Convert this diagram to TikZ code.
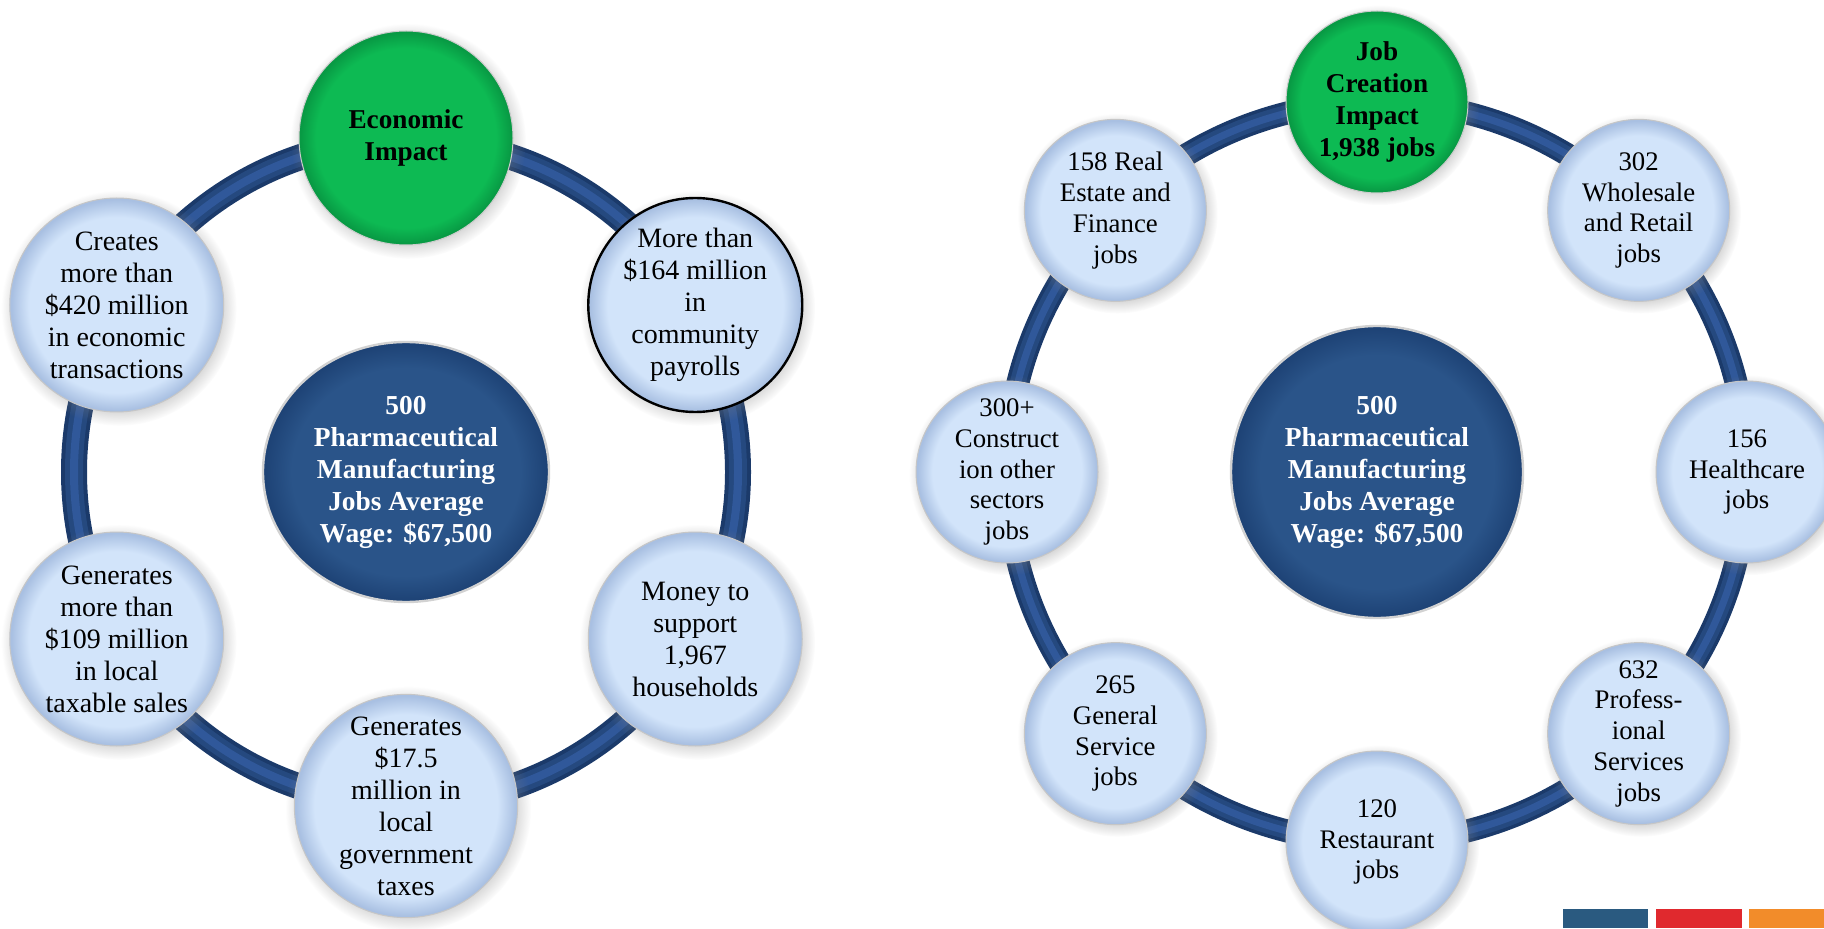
\documentclass[tikz,border=0pt]{standalone}
\usepackage{fontspec}
\setmainfont{Liberation Serif}
\usetikzlibrary{shapes.geometric,shadows,calc}
\definecolor{ringdark}{HTML}{1B3A6A}
\definecolor{ringmid}{HTML}{25497F}
\definecolor{ringlight}{HTML}{30589A}
\definecolor{lbin}{HTML}{D2E4FA}
\definecolor{lbrim}{HTML}{A9C0E2}
\definecolor{gin}{HTML}{0DBA53}
\definecolor{grim}{HTML}{089A44}
\definecolor{cin}{HTML}{2A5489}
\definecolor{crim}{HTML}{1E4376}
\definecolor{blkblue}{HTML}{2A5A80}
\definecolor{blkred}{HTML}{E0292E}
\definecolor{blkorange}{HTML}{F28C2A}
\pgfdeclareradialshading{lbshade}{\pgfpoint{0bp}{0bp}}{color(0bp)=(lbin); color(20.5bp)=(lbin); color(24.6bp)=(lbrim); color(50bp)=(lbrim)}
\pgfdeclareradialshading{gshade}{\pgfpoint{0bp}{0bp}}{color(0bp)=(gin); color(21bp)=(gin); color(24.6bp)=(grim); color(50bp)=(grim)}
\pgfdeclareradialshading{cshade}{\pgfpoint{0bp}{0bp}}{color(0bp)=(cin); color(20bp)=(cin); color(24.6bp)=(crim); color(50bp)=(crim)}
\tikzset{
  ringbase/.style={draw=ringdark},
  ringmidline/.style={draw=ringmid},
  ringhi/.style={draw=ringlight},
  lnode/.style={circle, inner sep=0pt, align=center, shading=lbshade,
    draw=gray!45, line width=0.5pt,
    circular drop shadow={shadow xshift=1pt, shadow yshift=-1.4pt, opacity=0.35}},
  bignode/.style={lnode, minimum size=107pt, font=\fontsize{14}{16}\selectfont},
  smallnode/.style={lnode, minimum size=91pt, font=\fontsize{13.4}{15.4}\selectfont},
  greennode/.style={circle, inner sep=0pt, align=center, shading=gshade,
    draw=gray!40, line width=0.5pt,
    circular drop shadow={shadow xshift=1pt, shadow yshift=-1.4pt, opacity=0.35},
    font=\fontsize{13.6}{16}\selectfont\bfseries},
  centernode/.style={inner sep=0pt, align=center, shading=cshade,
    draw=gray!35, line width=1.2pt, text=white,
    font=\fontsize{13.7}{16}\selectfont\bfseries},
  block/.style={inner sep=0pt, minimum height=9.5pt, anchor=south west}
}
\begin{document}
\begin{tikzpicture}[x=0.5pt,y=0.5pt]
\useasboundingbox (0,0) rectangle (1824,928);
% ---------- Left diagram ----------
\coordinate (cL) at (406,456);
\draw[ringbase, line width=13pt] (cL) circle[radius=332];
\draw[ringmidline, line width=9pt] (cL) circle[radius=332];
\draw[ringhi, line width=4pt] (cL) circle[radius=332];
\node[centernode, ellipse, minimum width=143pt, minimum height=130pt] (L0) at (cL)
  {500\\Pharmaceutical\\Manufacturing\\Jobs Average\\Wage: \$67,500};
\node[greennode, minimum size=107pt] (L1) at ($(cL)+(90:334)$) {Economic\\Impact};
\node[bignode, draw=black, line width=1.2pt] (L2) at ($(cL)+(30:334)$)
  {More than\\\$164 million\\in\\community\\payrolls};
\node[bignode] (L3) at ($(cL)+(-30:334)$) {Money to\\support\\1,967\\households};
\node[bignode] (L4) at ($(cL)+(-90:334)$) {Generates\\\$17.5\\million in\\local\\government\\taxes};
\node[bignode] (L5) at ($(cL)+(210:334)$) {Generates\\more than\\\$109 million\\in local\\taxable sales};
\node[bignode] (L6) at ($(cL)+(150:334)$) {Creates\\more than\\\$420 million\\in economic\\transactions};
% ---------- Right diagram ----------
\coordinate (cR) at (1377,456);
\draw[ringbase, line width=11.5pt] (cR) circle[radius=370];
\draw[ringmidline, line width=8pt] (cR) circle[radius=370];
\draw[ringhi, line width=3.5pt] (cR) circle[radius=370];
\node[centernode, circle, minimum size=146pt] (R0) at (cR)
  {500\\Pharmaceutical\\Manufacturing\\Jobs Average\\Wage: \$67,500};
\node[greennode, minimum size=91pt] (R1) at ($(cR)+(90:370)$) {Job\\Creation\\Impact\\1,938 jobs};
\node[smallnode] (R2) at ($(cR)+(45:370)$) {302\\Wholesale\\and Retail\\jobs};
\node[smallnode] (R3) at ($(cR)+(0:370)$) {156\\Healthcare\\jobs};
\node[smallnode] (R4) at ($(cR)+(-45:370)$) {632\\Profess-\\ional\\Services\\jobs};
\node[smallnode] (R5) at ($(cR)+(-90:370)$) {120\\Restaurant\\jobs};
\node[smallnode] (R6) at ($(cR)+(225:370)$) {265\\General\\Service\\jobs};
\node[smallnode] (R7) at ($(cR)+(180:370)$) {300+\\Construct\\ion other\\sectors\\jobs};
\node[smallnode] (R8) at ($(cR)+(135:370)$) {158 Real\\Estate and\\Finance\\jobs};
% ---------- colour blocks ----------
\node[block, fill=blkblue, minimum width=42.5pt] (B1) at (1563,0) {};
\node[block, fill=blkred, minimum width=43pt] (B2) at (1656,0) {};
\node[block, fill=blkorange, minimum width=37.5pt] (B3) at (1749,0) {};
\end{tikzpicture}
\end{document}
